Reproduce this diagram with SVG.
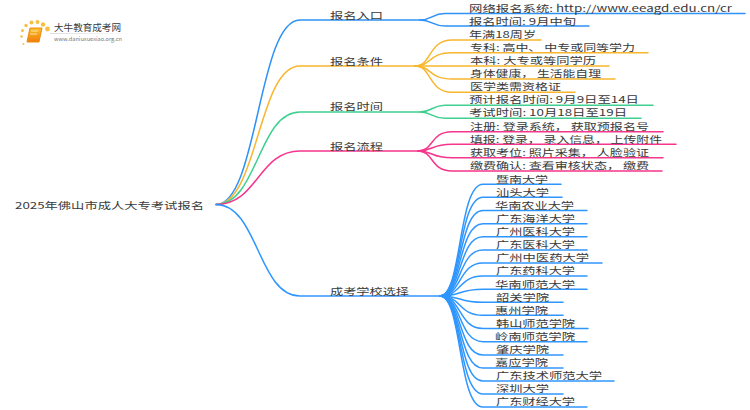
<svg xmlns="http://www.w3.org/2000/svg" width="750" height="410" viewBox="0 0 750 410">
<defs><linearGradient id="bk" x1="0" y1="0" x2="0" y2="1"><stop offset="0" stop-color="#fbc02d"/><stop offset="1" stop-color="#ef7d0a"/></linearGradient>
<linearGradient id="rule" x1="0" y1="0" x2="1" y2="0"><stop offset="0" stop-color="#ddd"/><stop offset="1" stop-color="#fff"/></linearGradient></defs>
<style>
text{font-family:"Noto Sans CJK SC","Noto Sans",sans-serif;font-size:9.500px;fill:#3a3a3a}
.c{fill:none;stroke-width:1.5;stroke-linecap:round}
.a{stroke:#2f92f5}.b{stroke:#f8b62d}.g{stroke:#3fcf90}.p{stroke:#f6358c}.u{stroke:#2f96ff}
.d{fill:#f8c040}
</style>
<rect width="750" height="410" fill="#fff"/>
<g id="logo">
<circle class="d" cx="23.500" cy="44" r="1"/><circle class="d" cx="21.500" cy="36.500" r="1.300"/><circle class="d" cx="22.500" cy="30.500" r="1.500"/><circle class="d" cx="26" cy="25.500" r="1.700"/><circle class="d" cx="31.500" cy="22.500" r="2"/><circle class="d" cx="37.500" cy="22" r="2"/><circle class="d" cx="43" cy="24.500" r="2.200"/><circle class="d" cx="47.500" cy="29" r="2.400"/>
<path d="M30,28H42L39,42H27Z" fill="url(#bk)" stroke="#ee8a12" stroke-width="1"/>
<path d="M31,31H38M30,34H37" stroke="#fff3c4" stroke-width=".8"/>
<rect x="50" y="33" width="84" height="1" fill="url(#rule)"/>
<text x="54" y="31" style="font-size:9.500px" textLength="67" lengthAdjust="spacingAndGlyphs">大牛教育成考网</text>
<text x="54" y="41" style="font-size:5.500px;fill:#777" textLength="68" lengthAdjust="spacingAndGlyphs">www.daniuxuexiao.org.cn</text>
</g>
<g id="connectors">
<path class="c a" d="M216,204.500C258,204.500 258,20 300,20H420C432,20 432,13.500 445,13.500H745"/>
<path class="c a" d="M420,20C432,20 432,26 445,26H589"/>
<path class="c b" d="M216,204.500C258,204.500 258,66 300,66H415C432,66 428,40 452,40H541"/>
<path class="c b" d="M415,66C432,66 428,52.700 452,52.700H648"/>
<path class="c b" d="M415,66H609"/>
<path class="c b" d="M415,66C432,66 428,79 452,79H615"/>
<path class="c b" d="M415,66C432,66 428,92.300 452,92.300H575"/>
<path class="c g" d="M216,204.500C258,204.500 258,112 300,112H420C432,112 432,105.300 445,105.300H653"/>
<path class="c g" d="M420,112C432,112 432,118.300 445,118.300H641"/>
<path class="c p" d="M216,204.500C258,204.500 258,151 300,151H418C434,151 430,131.700 452,131.700H663"/>
<path class="c p" d="M418,151C434,151 430,144.300 452,144.300H676"/>
<path class="c p" d="M418,151C434,151 430,157.700 452,157.700H663"/>
<path class="c p" d="M418,151C434,151 430,171 452,171H662"/>
<path class="c u" d="M216,204.500C258,204.500 258,296 300,296H440"/>
<path class="c u" d="M440,296C462,296 458,184.300 483,184.300H561"/>
<path class="c u" d="M440,296C462,296 458,197.300 483,197.300H562"/>
<path class="c u" d="M440,296C462,296 458,210.500 483,210.500H587"/>
<path class="c u" d="M440,296C462,296 458,223.700 483,223.700H587"/>
<path class="c u" d="M440,296C462,296 458,236.800 483,236.800H587"/>
<path class="c u" d="M440,296C462,296 458,250 483,250H587"/>
<path class="c u" d="M440,296C462,296 458,263 483,263H602"/>
<path class="c u" d="M440,296C462,296 458,276 483,276H587"/>
<path class="c u" d="M440,296C462,296 458,289.300 483,289.300H587"/>
<path class="c u" d="M440,296C462,296 458,302.300 483,302.300H563"/>
<path class="c u" d="M440,296C462,296 458,315.300 483,315.300H563"/>
<path class="c u" d="M440,296C462,296 458,328.500 483,328.500H588"/>
<path class="c u" d="M440,296C462,296 458,341.700 483,341.700H587"/>
<path class="c u" d="M440,296C462,296 458,355 483,355H563"/>
<path class="c u" d="M440,296C462,296 458,368 483,368H563"/>
<path class="c u" d="M440,296C462,296 458,381 483,381H614"/>
<path class="c u" d="M440,296C462,296 458,394 483,394H563"/>
<path class="c u" d="M440,296C462,296 458,407 483,407H587"/>
</g>
<g id="root"><text x="15" y="208.500" textLength="189" lengthAdjust="spacingAndGlyphs">2025年佛山市成人大专考试报名</text></g>
<g id="n1"><text x="330" y="18.500" textLength="53" lengthAdjust="spacingAndGlyphs">报名入口</text></g>
<g id="n1-1"><text x="469" y="11.500" textLength="263" lengthAdjust="spacingAndGlyphs">网络报名系统: http://www.eeagd.edu.cn/cr</text></g>
<g id="n1-2"><text x="469" y="24.500" textLength="107" lengthAdjust="spacingAndGlyphs">报名时间: 9月中旬</text></g>
<g id="n2"><text x="330" y="64.500" textLength="53" lengthAdjust="spacingAndGlyphs">报名条件</text></g>
<g id="n2-1"><text x="469" y="37.500" textLength="67" lengthAdjust="spacingAndGlyphs">年满18周岁</text></g>
<g id="n2-2"><text x="470" y="50.500" textLength="165" lengthAdjust="spacingAndGlyphs">专科: 高中、 中专或同等学力</text></g>
<g id="n2-3"><text x="470" y="63.500" textLength="126" lengthAdjust="spacingAndGlyphs">本科: 大专或等同学历</text></g>
<g id="n2-4"><text x="470" y="77" textLength="131" lengthAdjust="spacingAndGlyphs">身体健康， 生活能自理</text></g>
<g id="n2-5"><text x="470" y="90" textLength="91" lengthAdjust="spacingAndGlyphs">医学类需资格证</text></g>
<g id="n3"><text x="330" y="110" textLength="53" lengthAdjust="spacingAndGlyphs">报名时间</text></g>
<g id="n3-1"><text x="469" y="103" textLength="170" lengthAdjust="spacingAndGlyphs">预计报名时间: 9月9日至14日</text></g>
<g id="n3-2"><text x="469" y="116" textLength="158" lengthAdjust="spacingAndGlyphs">考试时间: 10月18日至19日</text></g>
<g id="n4"><text x="330" y="149.500" textLength="53" lengthAdjust="spacingAndGlyphs">报名流程</text></g>
<g id="n4-1"><text x="470" y="129.500" textLength="179" lengthAdjust="spacingAndGlyphs">注册: 登录系统， 获取预报名号</text></g>
<g id="n4-2"><text x="470" y="142.500" textLength="192" lengthAdjust="spacingAndGlyphs">填报: 登录， 录入信息， 上传附件</text></g>
<g id="n4-3"><text x="470" y="156" textLength="179" lengthAdjust="spacingAndGlyphs">获取考位: 照片采集， 人脸验证</text></g>
<g id="n4-4"><text x="470" y="169" textLength="179" lengthAdjust="spacingAndGlyphs">缴费确认: 查看审核状态， 缴费</text></g>
<g id="n5"><text x="330" y="294.500" textLength="79" lengthAdjust="spacingAndGlyphs">成考学校选择</text></g>
<g id="u1"><text x="496" y="182.500" textLength="52" lengthAdjust="spacingAndGlyphs">暨南大学</text></g>
<g id="u2"><text x="496" y="195.500" textLength="53" lengthAdjust="spacingAndGlyphs">汕头大学</text></g>
<g id="u3"><text x="495" y="208.500" textLength="79" lengthAdjust="spacingAndGlyphs">华南农业大学</text></g>
<g id="u4"><text x="496" y="221.500" textLength="79" lengthAdjust="spacingAndGlyphs">广东海洋大学</text></g>
<g id="u5"><text x="496" y="235" textLength="79" lengthAdjust="spacingAndGlyphs">广州医科大学</text></g>
<g id="u6"><text x="496" y="248" textLength="79" lengthAdjust="spacingAndGlyphs">广东医科大学</text></g>
<g id="u7"><text x="496" y="261" textLength="93" lengthAdjust="spacingAndGlyphs">广州中医药大学</text></g>
<g id="u8"><text x="496" y="274" textLength="79" lengthAdjust="spacingAndGlyphs">广东药科大学</text></g>
<g id="u9"><text x="495" y="287.500" textLength="80" lengthAdjust="spacingAndGlyphs">华南师范大学</text></g>
<g id="u10"><text x="496" y="300.500" textLength="53" lengthAdjust="spacingAndGlyphs">韶关学院</text></g>
<g id="u11"><text x="495" y="313.500" textLength="53" lengthAdjust="spacingAndGlyphs">惠州学院</text></g>
<g id="u12"><text x="496" y="326.500" textLength="79" lengthAdjust="spacingAndGlyphs">韩山师范学院</text></g>
<g id="u13"><text x="495" y="339.500" textLength="80" lengthAdjust="spacingAndGlyphs">岭南师范学院</text></g>
<g id="u14"><text x="496" y="353" textLength="53" lengthAdjust="spacingAndGlyphs">肇庆学院</text></g>
<g id="u15"><text x="495" y="366" textLength="53" lengthAdjust="spacingAndGlyphs">嘉应学院</text></g>
<g id="u16"><text x="496" y="379" textLength="106" lengthAdjust="spacingAndGlyphs">广东技术师范大学</text></g>
<g id="u17"><text x="496" y="392" textLength="53" lengthAdjust="spacingAndGlyphs">深圳大学</text></g>
<g id="u18"><text x="496" y="405" textLength="79" lengthAdjust="spacingAndGlyphs">广东财经大学</text></g>
</svg>
